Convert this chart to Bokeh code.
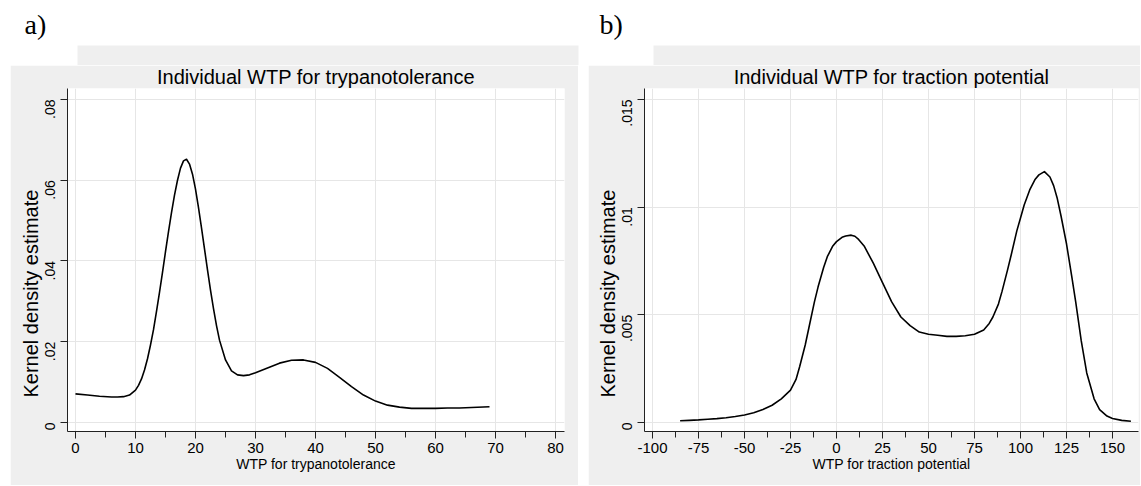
import math
from bokeh.plotting import figure
from bokeh.models import Range1d, FixedTicker, BoxAnnotation, Label, Spacer, Title
from bokeh.layouts import row, column
from bokeh.embed import file_html
from bokeh.resources import INLINE

# ---------------- data ----------------
wtp_trypano = [0, 2, 4, 6, 7, 8, 9, 10, 10.5, 11, 11.5, 12, 12.5, 13, 13.5, 14, 14.5, 15, 15.5,
               16, 16.5, 17, 17.5, 18, 18.5, 19, 19.5, 20, 20.5, 21, 21.5, 22, 22.5, 23, 23.5,
               24, 25, 26, 27, 28, 29, 30, 32, 34, 36, 38, 40, 42, 44, 46, 48, 50, 52, 54, 56,
               58, 60, 62, 64, 66, 69]
dens_trypano = [0.0071, 0.0068, 0.0065, 0.0063, 0.0063, 0.0064, 0.0068, 0.0080, 0.0092, 0.0108,
                0.0130, 0.0158, 0.0192, 0.0230, 0.0275, 0.0322, 0.0372, 0.0423, 0.0473, 0.0520,
                0.0563, 0.0600, 0.0630, 0.0648, 0.0652, 0.0640, 0.0615, 0.0578, 0.0532, 0.0482,
                0.0430, 0.0378, 0.0328, 0.0282, 0.0240, 0.0204, 0.0155, 0.0128, 0.0118, 0.0116,
                0.0118, 0.0123, 0.0135, 0.0147, 0.0154, 0.0155, 0.0149, 0.0134, 0.0112, 0.0089,
                0.0068, 0.0053, 0.0043, 0.0038, 0.0035, 0.0035, 0.0035, 0.0036, 0.0036, 0.0037,
                0.0039]

wtp_traction = [-85, -80, -75, -70, -65, -60, -55, -50, -45, -40, -35, -30, -25, -22, -20, -17,
                -15, -12, -10, -7, -5, -2, 0, 3, 5, 8, 10, 12, 15, 20, 25, 30, 35, 40, 45, 50,
                55, 60, 65, 70, 75, 80, 83, 85, 88, 90, 93, 95, 98, 100, 102, 105, 108, 110, 113,
                116, 118, 120, 122, 125, 128, 130, 133, 136, 140, 143, 147, 150, 155, 160]
dens_traction = [0.00008, 0.0001, 0.00012, 0.00015, 0.00018, 0.00022, 0.00028, 0.00035, 0.00045,
                 0.0006, 0.0008, 0.0011, 0.0015, 0.0020, 0.0026, 0.0036, 0.0044, 0.0056, 0.0063,
                 0.0072, 0.0077, 0.0082, 0.0084, 0.0086, 0.00866, 0.0087, 0.00865, 0.0085, 0.0082,
                 0.0074, 0.0065, 0.0056, 0.0049, 0.0045, 0.0042, 0.0041, 0.00405, 0.0040, 0.0040,
                 0.00403, 0.0041, 0.0043, 0.0046, 0.0049, 0.0055, 0.0061, 0.0071, 0.0078, 0.0089,
                 0.0095, 0.0101, 0.0108, 0.0113, 0.0115, 0.01165, 0.0114, 0.0110, 0.0104, 0.0096,
                 0.0083, 0.0067, 0.0056, 0.0038, 0.0023, 0.0011, 0.0006, 0.0003, 0.00019, 0.0001,
                 0.00006]

xticks_a = [0, 10, 20, 30, 40, 50, 60, 70, 80]
xlabels_a = ["0", "10", "20", "30", "40", "50", "60", "70", "80"]
xminor_a = [5, 15, 25, 35, 45, 55, 65, 75]
yticks_a = [0, 0.02, 0.04, 0.06, 0.08]
ylabels_a = ["0", ".02", ".04", ".06", ".08"]

xticks_b = [-100, -75, -50, -25, 0, 25, 50, 75, 100, 125, 150]
xlabels_b = ["-100", "-75", "-50", "-25", "0", "25", "50", "75", "100", "125", "150"]
xminor_b = [-87.5, -62.5, -37.5, -12.5, 12.5, 37.5, 62.5, 87.5, 112.5, 137.5]
yticks_b = [0, 0.005, 0.01, 0.015]
ylabels_b = ["0", ".005", ".01", ".015"]

titles = ["Individual WTP for trypanotolerance", "Individual WTP for traction potential"]
xaxis_titles = ["WTP for trypanotolerance", "WTP for traction potential"]
yaxis_title = "Kernel density estimate"
letters = ["a)", "b)"]

GRAY = "#efefef"
GRID = "#e6e6e6"
AXIS = "#222222"
FONT = "Liberation Sans"


def make_panel(xs, ys, xr, yr, xt, xtl, xm, yt, ytl, title, xlabel, left, right, fw):
    p = figure(frame_width=fw, frame_height=343,
               x_range=Range1d(*xr), y_range=Range1d(*yr),
               toolbar_location=None, output_backend="svg",
               min_border_left=left, min_border_right=right,
               min_border_top=23, min_border_bottom=54,
               background_fill_color="white", border_fill_color=GRAY,
               outline_line_color=None, title=title)
    p.title.align = "center"
    p.title.vertical_align = "top"
    p.title.text_font = FONT
    p.title.text_font_size = "20px"
    p.title.text_font_style = "normal"
    p.title.text_color = "black"
    p.title.standoff = -3

    xa = p.xaxis[0]
    xa.ticker = FixedTicker(ticks=xt, minor_ticks=xm)
    xa.major_label_overrides = {v: l for v, l in zip(xt, xtl)}
    xa.axis_label = xlabel
    ya = p.yaxis[0]
    ya.ticker = FixedTicker(ticks=yt, minor_ticks=[])
    ya.major_label_overrides = {v: l for v, l in zip(yt, ytl)}
    ya.major_label_orientation = math.pi / 2
    for ax in (xa, ya):
        ax.axis_line_color = AXIS
        ax.major_tick_line_color = AXIS
        ax.minor_tick_line_color = AXIS
        ax.major_tick_out = 7
        ax.major_tick_in = 0
        ax.minor_tick_out = 6
        ax.minor_tick_in = 0
        ax.major_label_text_font = FONT
        ax.major_label_text_color = "black"
        ax.axis_label_text_font = FONT
        ax.axis_label_text_font_size = "14px"
        ax.axis_label_text_font_style = "normal"
        ax.axis_label_text_color = "black"
        ax.axis_label_standoff = 0
    xa.major_label_standoff = 4
    ya.major_label_standoff = 10
    xa.major_label_text_font_size = "15px"
    ya.major_label_text_font_size = "14px"
    p.add_layout(Title(text=yaxis_title, align="left", offset=34, standoff=-8,
                       text_font=FONT, text_font_size="20px", text_font_style="normal",
                       text_color="black"), "left")
    p.grid.grid_line_color = GRID
    p.grid.grid_line_width = 1
    p.line(xs, ys, line_color="black", line_width=1.6, line_join="round")
    return p


pA = make_panel(wtp_trypano, dens_trypano, (-1.333, 81.5), (-0.002229, 0.082724),
                xticks_a, xlabels_a, xminor_a, yticks_a, ylabels_a, titles[0], xaxis_titles[0],
                57, 14, 497)
pB = make_panel(wtp_traction, dens_traction, (-104.35, 164.13), (-0.000418, 0.015511),
                xticks_b, xlabels_b, xminor_b, yticks_b, ylabels_b, titles[1], xaxis_titles[1],
                56, 2, 494)

# top strip with panel letters and the grey title bands
W = 1140
top = figure(frame_width=W, frame_height=65, x_range=Range1d(0, W), y_range=Range1d(0, 65),
             min_border=0, toolbar_location=None, output_backend="svg",
             outline_line_color=None, x_axis_location=None, y_axis_location=None,
             background_fill_color="white", border_fill_color="white")
top.grid.visible = False
top.add_layout(BoxAnnotation(left=77, right=578, bottom=0, top=20,
                             fill_color=GRAY, fill_alpha=1, line_color=None))
top.add_layout(BoxAnnotation(left=653, right=W, bottom=0, top=20,
                             fill_color=GRAY, fill_alpha=1, line_color=None))
for lx, txt in zip([24, 599], letters):
    top.add_layout(Label(x=lx, y=41, text=txt, text_font="Liberation Serif",
                         text_font_size="28px", text_color="black",
                         text_baseline="alphabetic"))

root = column(top, row(Spacer(width=10, height=420), pA, Spacer(width=10, height=420), pB))

open("out.html", "w").write(file_html(root, INLINE, title="KDE WTP"))
